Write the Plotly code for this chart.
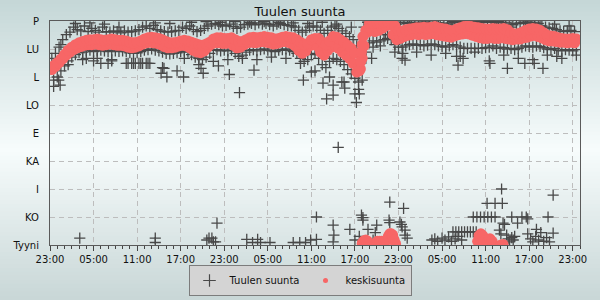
import plotly.graph_objects as go

# ---------------- data ----------------
title_text = "Tuulen suunta"
dir_vals = [0, 45, 90, 135, 180, 225, 270, 315, 360]
dir_labels = ["Tyyni", "KO", "I", "KA", "E", "LO", "L", "LU", "P"]
time_ticks = [0, 6, 12, 18, 24, 30, 36, 42, 48, 54, 60, 66, 72]
time_labels = ["23:00", "05:00", "11:00", "17:00", "23:00", "05:00", "11:00",
               "17:00", "23:00", "05:00", "11:00", "17:00", "23:00"]

# hours after the first 23:00, half-hour sampling
t_a = [0.25 + 0.5 * i for i in range(145)]
t_b = [0.5 + 0.5 * i for i in range(145)]
t_sc = [0.5 + i for i in range(73)]

# keskisuunta (mean direction), lower and upper samples
red_a = [282, 287, 293, 299, 305, 310, 314, 317, 319, 321, 322, 322,
         323, 322, 321, 322, 323, 322, 321, 321, 320, 318, 317, 318,
         320, 323, 325, 326, 325, 324, 322, 319, 317, 317, 318, 320,
         321, 320, 317, 313, 310, 309, 312, 318, 323, 325, 325, 324,
         324, 325, 321, 317, 318, 322, 325, 326, 325, 326, 327, 326,
         325, 323, 324, 326, 327, 326, 324, 320, 313, 308, 312, 320,
         324, 320, 310, 305, 313, 318, 320, 316, 310, 305, 300, 292,
         278, 283, 320, 342, 345, 343, 345, 348, 352, 354, 338, 330,
         332, 335, 337, 338, 339, 338, 339, 338, 339, 340, 338, 337,
         336, 335, 334, 336, 338, 339, 340, 339, 337, 335, 333, 332,
         332, 333, 332, 332, 333, 332, 331, 330, 331, 331, 333, 334,
         336, 337, 335, 333, 330, 328, 328, 327, 326, 326, 325, 326,
         325]
red_b = [288, 293, 299, 306, 313, 318, 322, 325, 327, 329, 330, 330,
         331, 330, 329, 330, 331, 330, 329, 329, 328, 326, 325, 326,
         328, 331, 333, 334, 333, 332, 330, 327, 325, 325, 326, 328,
         329, 328, 326, 324, 322, 321, 323, 326, 331, 333, 333, 332,
         332, 333, 330, 327, 327, 330, 333, 334, 333, 334, 335, 334,
         333, 331, 332, 334, 335, 334, 333, 330, 326, 322, 324, 330,
         332, 332, 326, 322, 328, 335, 334, 330, 326, 321, 316, 308,
         286, 300, 345, 356, 358, 357, 357, 358, 359, 359, 352, 345,
         342, 346, 347, 348, 349, 349, 350, 349, 350, 351, 349, 348,
         347, 345, 344, 347, 349, 351, 352, 351, 350, 349, 348, 347,
         347, 348, 347, 347, 348, 346, 341, 339, 340, 342, 345, 347,
         348, 347, 345, 341, 337, 336, 335, 333, 332, 331, 331, 332,
         331]
# extra mean-direction samples (steep rise and values wrapping past north)
red_ex_t = [42.6, 42.8, 42.9, 43.0, 43.1,
            43.0, 43.25, 43.5, 43.75, 44.0,
            44.9, 45.1, 45.4, 45.7, 46.0, 46.3, 46.6, 46.8, 47.0, 47.2, 47.4, 47.6,
            58.9, 59.1, 59.35, 59.6, 59.8,
            60.3, 60.6, 60.9, 62.1, 62.4]
red_ex_v = [280, 295, 310, 322, 335,
            3, 7, 8, 6, 2,
            3, 6, 6, 6, 6, 7, 14, 18, 18, 16, 8, 2,
            6, 15, 18, 15, 6,
            6, 10, 6, 0, 1]

# Tuulen suunta (observed direction)
g_hi = [300, 308, 318, 330, 338, 342, 350, 346, 344, 352, 343, 348,
        345, 342, 350, 343, 342, 344, 343, 341, 344, 342, 343, 344,
        346, 350, 352, 348, 353, 346, 344, 343, 342, 343, 344, 345,
        350, 348, 352, 346, 343, 345, 348, 352, 355, 356, 354, 352,
        353, 355, 351, 348, 350, 354, 355, 356, 354, 357, 355, 356,
        354, 352, 355, 356, 354, 353, 352, 350, 345, 342, 345, 350,
        352, 350, 345, 340, 345, 350, 352, 348, 344, 340, 335, 330,
        320, 315, 350, 358, 359, 358, 358, 359, 359, 359, 358, 355,
        357, 358, 356, 357, 358, 357, 356, 358, 357, 358, 357, 356,
        356, 355, 357, 358, 359, 358, 359, 358, 359, 358, 359, 358,
        358, 359, 358, 359, 358, 357, 355, 354, 356, 357, 358, 358,
        358, 357, 356, 352, 350, 349, 348, 346, 344, 343, 344, 345,
        343]
g_lo = [265, 270, 280, 288, 296, 302, 306, 309, 310, 312, 313, 311,
        312, 313, 312, 311, 313, 312, 311, 312, 311, 309, 308, 309,
        311, 313, 314, 315, 313, 312, 310, 308, 307, 308, 309, 311,
        312, 310, 306, 302, 300, 298, 302, 308, 313, 314, 312, 313,
        312, 313, 308, 303, 305, 310, 313, 314, 312, 314, 315, 313,
        312, 311, 313, 314, 315, 313, 311, 308, 300, 295, 298, 306,
        308, 300, 290, 285, 295, 300, 298, 295, 290, 282, 275, 268,
        262, 265, 310, 325, 328, 326, 328, 330, 332, 330, 322, 318,
        318, 320, 322, 323, 321, 322, 320, 321, 323, 322, 320, 319,
        318, 320, 322, 320, 318, 316, 316, 316, 316, 316, 316, 317,
        318, 320, 316, 318, 317, 315, 316, 314, 316, 318, 320, 319,
        318, 320, 319, 317, 315, 314, 316, 313, 312, 314, 313, 312,
        314]
g_sc = [255, 322, 290, 356, 298, 357, 300, 355, 296, 350, 292, 292,
        292, 292, 357, 285, 356, 280,
        300, 358, 290, 359, 295, 358, 298, 359, 300, 358, 298, 359,
        302, 358, 300, 357, 292, 356,
        280, 358, 270, 355, 262, 350, 250, 300, 318, 320, 338, 310,
        300, 352, 310, 358, 305, 357, 308, 359, 303, 357, 310, 358,
        296, 357, 305, 350, 300, 356, 298, 352, 305, 355, 300, 352,
        305]
g_ex_t = [1.2, 1.4, 5.0, 6.0, 7.0, 8.0, 8.5, 15.3, 15.7, 16.1,
          10.75, 11.25, 11.75, 12.25, 12.75, 13.25, 13.75,
          18.4, 20.8, 21.1, 23.2, 24.7, 26.1, 28.1, 34.9, 36.0,
          39.7, 42.2, 38.1, 39.0, 39.0, 40.6, 40.2, 37.6, 42.0, 42.6,
          44.3, 48.6, 48.9, 46.2,
          56.2, 60.6, 63.0, 65.4, 66.7, 67.9, 56.0, 56.9, 69.8,
          4.1, 14.5, 14.5, 21.6, 21.9, 22.3, 22.5, 22.8, 23.0,
          27.1, 27.9, 28.6, 29.0, 30.3, 33.5, 34.4, 35.2, 35.9, 36.7, 36.7,
          39.0, 39.1, 39.0, 41.3, 42.0, 42.6, 42.9, 43.1, 43.1, 43.8,
          44.5, 44.8, 45.0, 46.7, 46.8, 46.8, 48.2, 48.4, 48.7, 48.5,
          48.9, 48.9, 49.2,
          52.6, 53.0, 53.4, 54.0, 54.4, 54.9, 55.3, 55.8, 56.2, 56.7,
          55.5, 55.9, 56.3, 56.7, 57.1, 57.5, 57.9, 58.3, 58.7,
          58.3, 58.8, 59.3, 59.8, 60.3, 60.8, 61.3,
          60.2, 61.3, 62.3, 62.2, 62.4, 62.6, 63.6,
          62.9, 63.1, 63.3, 63.6, 63.8, 64.0, 61.9, 62.1,
          64.4, 65.0, 65.6, 65.8,
          65.8, 66.2, 66.5, 66.9, 67.3, 67.6, 68.0, 68.4, 68.8, 67.0,
          68.6, 69.3, 69.3]
g_ex_v = [265, 257, 300, 296, 292, 292, 298, 276, 284, 270,
          292, 292, 292, 292, 292, 292, 292,
          270, 284, 276, 288, 274, 245, 281, 265, 278,
          157, 229, 235, 241, 257, 252, 262, 260, 243, 243,
          300, 308, 297, 338,
          289, 292, 284, 292, 292, 284, 303, 300, 303,
          11, 11, 4, 8, 11, 11, 5, 5, 35,
          9, 4, 9, 4, 4, 4, 4, 4, 8, 9, 45,
          32, 16, 5, 25, 8, 14, 48, 44, 40, 25,
          8, 20, 32, 40, 36, 69, 37, 33, 59, 29,
          24, 16, 11,
          8, 10, 6, 11, 8, 13, 6, 10, 14, 8,
          21, 21, 21, 21, 21, 21, 21, 21, 21,
          45, 45, 45, 45, 45, 45, 45,
          67, 67, 67, 90, 35, 33, 45,
          16, 10, 5, 12, 8, 14, 24, 18,
          35, 45, 45, 42,
          18, 10, 5, 14, 8, 20, 6, 12, 5, 25,
          45, 80, 19]

# ---------------- figure ----------------
GREY = "#484848"
RED = "#f76666"

fig = go.Figure()

obs_t = t_a + t_b + t_sc + g_ex_t
obs_v = g_hi + g_lo + g_sc + g_ex_v
fig.add_trace(go.Scatter(
    x=obs_t, y=obs_v, mode="markers", showlegend=False, hoverinfo="skip",
    marker=dict(symbol="cross-thin", size=8, line=dict(width=1.3, color=GREY), color=GREY),
))
fig.add_trace(go.Scatter(
    x=t_a + t_b + red_ex_t, y=red_a + red_b + red_ex_v, mode="markers",
    showlegend=False, hoverinfo="skip",
    marker=dict(symbol="circle", size=11, color=RED, line=dict(width=0)),
))
# legend entries
fig.add_trace(go.Scatter(
    x=[None], y=[None], mode="markers", name="Tuulen suunta",
    marker=dict(symbol="cross-thin", size=9, line=dict(width=1.2, color=GREY), color=GREY),
))
fig.add_trace(go.Scatter(
    x=[None], y=[None], mode="markers", name="keskisuunta",
    marker=dict(symbol="circle", size=5, color=RED),
))

# vertical background gradient built from thin bands (pixel space -> paper)
L, R_, T, B, W, H = 50, 20, 21, 55, 600, 300
pw, ph = W - L - R_, H - T - B
def lerp(c1, c2, f):
    return tuple(round(a + (b - a) * f) for a, b in zip(c1, c2))
top_c, mid_c, bot_c = (196, 215, 215), (247, 252, 252), (200, 215, 215)
shapes = []
nb = 75
for k in range(nb):
    y0 = k * H / nb
    y1 = (k + 1) * H / nb
    ym = (y0 + y1) / 2
    if ym < 150:
        c = lerp(top_c, mid_c, ym / 150)
    else:
        c = lerp(mid_c, bot_c, (ym - 150) / 150)
    shapes.append(dict(
        type="rect", xref="paper", yref="paper", layer="below",
        x0=-L / pw, x1=(W - L) / pw,
        y0=(H - B - y1) / ph - 0.001, y1=(H - B - y0) / ph + 0.001,
        fillcolor="rgb(%d,%d,%d)" % c, line=dict(width=0),
    ))

font_family = "DejaVu Sans"
fig.update_layout(
    width=W, height=H, autosize=False,
    margin=dict(l=L, r=R_, t=T, b=B, pad=0, autoexpand=False),
    paper_bgcolor="rgb(220,232,232)",
    plot_bgcolor="rgba(0,0,0,0)",
    shapes=shapes,
    font=dict(family=font_family, size=10, color="#111111"),
    title=dict(text=title_text, x=0.5, xref="container", xanchor="center",
               y=1 - 11 / H, yref="container", yanchor="middle",
               font=dict(family=font_family, size=13, color="#111111")),
    legend=dict(orientation="h", x=(300 - L) / pw, xanchor="center",
                y=-(296 - (H - B)) / ph, yanchor="bottom",
                bgcolor="#d4d4d4", bordercolor="#7c7c7c", borderwidth=1,
                font=dict(family=font_family, size=10, color="#111111"),
                itemwidth=30, tracegroupgap=0),
    xaxis=dict(
        range=[0, 73], tickvals=time_ticks, ticktext=time_labels,
        showgrid=True, gridcolor="#bdbdbd", griddash="5px,4px", gridwidth=1,
        zeroline=False, showline=True, linecolor="#5a5a5a", linewidth=1, mirror=True,
        ticks="outside", ticklen=5, tickcolor="#444444", tickwidth=1,
        minor=dict(dtick=1, tick0=0, ticks="outside", ticklen=3, tickcolor="#444444",
                   showgrid=False),
        tickfont=dict(family=font_family, size=10, color="#111111"),
        fixedrange=True,
    ),
    yaxis=dict(
        range=[0, 360], tickvals=dir_vals, ticktext=dir_labels,
        showgrid=True, gridcolor="#bdbdbd", griddash="5px,4px", gridwidth=1,
        zeroline=False, showline=True, linecolor="#5a5a5a", linewidth=1, mirror=True,
        ticks="", ticklabelstandoff=8,
        tickfont=dict(family=font_family, size=10, color="#111111"),
        fixedrange=True,
    ),
)

fig.write_html("out.html", config={"displayModeBar": False})
